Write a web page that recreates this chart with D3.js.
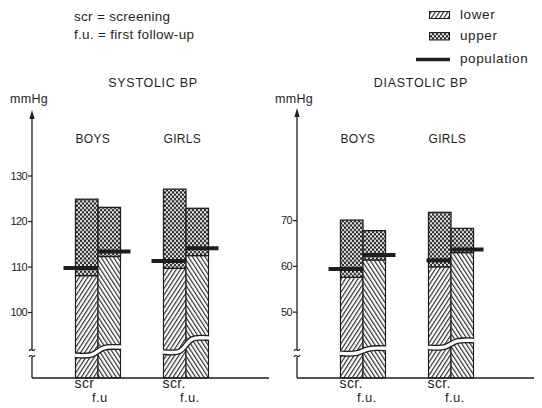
<!DOCTYPE html>
<html><head><meta charset="utf-8">
<script src="https://cdn.jsdelivr.net/npm/d3@7"></script>
<style>
html,body{margin:0;padding:0;background:#fff;}
svg text{font-family:"Liberation Sans",Arial,sans-serif;fill:#1e1e1e;}
</style></head>
<body>
<svg id="chart" width="542" height="408"></svg>
<script>
// ---------- data ----------
const panelTitles = ["SYSTOLIC BP", "DIASTOLIC BP"];
const groups = ["BOYS", "GIRLS"];
const visits = ["scr", "fu"];
// order: boys scr, boys f.u., girls scr, girls f.u.
const sysLower = [108.0, 112.2, 109.6, 112.4];
const sysUpper = [124.8, 123.0, 127.0, 122.8];
const sysPop   = [109.7, 113.3, 111.2, 114.0];
const diaLower = [57.5, 61.3, 59.8, 62.9];
const diaUpper = [70.0, 67.7, 71.7, 68.2];
const diaPop   = [59.3, 62.4, 61.2, 63.6];
const sysTicks = [100, 110, 120, 130];
const diaTicks = [50, 60, 70];
const sysDomain = [85.5, 144.4];
const diaDomain = [35.5, 94.5];
// broken-bar wave levels [left, right] per group (axis units)
const sysBreak = [[90.5, 92.3], [91.2, 94.3]];
const diaBreak = [[40.9, 42.0], [42.2, 43.7]];
const sysVisitLabels = [["scr", "f.u"], ["scr.", "f.u."]];
const diaVisitLabels = [["scr.", "f.u."], ["scr.", "f.u."]];
const legendLabels = ["lower", "upper", "population"];
const notes = ["scr = screening", "f.u. = first follow-up"];

// ---------- drawing ----------
const svg = d3.select("#chart");
const ink = "#1e1e1e";
const defs = svg.append("defs");

function hatch(id, angle) {
  const p = defs.append("pattern").attr("id", id)
    .attr("patternUnits", "userSpaceOnUse").attr("width", 3.5).attr("height", 3.5)
    .attr("patternTransform", `rotate(${angle})`);
  p.append("rect").attr("width", 3.5).attr("height", 3.5).attr("fill", "#fff");
  p.append("line").attr("x1", 0.6).attr("x2", 0.6).attr("y1", 0).attr("y2", 3.5)
    .attr("stroke", ink).attr("stroke-width", 1.1);
}
hatch("hatchScr", 33);
hatch("hatchFu", -33);
const mesh = defs.append("pattern").attr("id", "mesh")
  .attr("patternUnits", "userSpaceOnUse").attr("width", 4).attr("height", 4.4);
mesh.append("rect").attr("width", 4).attr("height", 4.4).attr("fill", "#222");
[[1, 1.1], [3, 3.3], [3, -1.1], [-1, 3.3], [5, 3.3], [1, 5.5]].forEach(([cx, cy]) =>
  mesh.append("ellipse").attr("cx", cx).attr("cy", cy).attr("rx", 0.95).attr("ry", 1.25).attr("fill", "#fff"));

const panels = [
  {title: panelTitles[0], lower: sysLower, upper: sysUpper, pop: sysPop, ticks: sysTicks,
   domain: sysDomain, brk: sysBreak, vlab: sysVisitLabels, axisX: 32, top: 110, titleX: 153},
  {title: panelTitles[1], lower: diaLower, upper: diaUpper, pop: diaPop, ticks: diaTicks,
   domain: diaDomain, brk: diaBreak, vlab: diaVisitLabels, axisX: 297, top: 108, titleX: 421}
];
const base = 378;

panels.forEach((P, pi) => {
  const y = d3.scaleLinear().domain(P.domain).range([base, P.top]);
  const xg = d3.scalePoint().domain(groups).range([P.axisX + 66, P.axisX + 154]);
  const xv = d3.scaleBand().domain(visits).range([-22.5, 22.5]);
  const g = svg.append("g");

  // title and unit
  g.append("text").attr("x", P.titleX).attr("y", 87).attr("text-anchor", "middle")
    .attr("font-size", 12.5).attr("letter-spacing", 0.7).text(P.title);
  g.append("text").attr("x", P.axisX - 22).attr("y", 103).attr("font-size", 12.5)
    .attr("letter-spacing", 0.3).text("mmHg");

  // bars
  const rows = [];
  groups.forEach((gr, gi) => visits.forEach((v, vi) => {
    const k = gi * 2 + vi;
    rows.push({gr, gi, v, vi, lower: P.lower[k], upper: P.upper[k], pop: P.pop[k]});
  }));
  const bw = xv.bandwidth();
  rows.forEach(r => {
    const x0 = xg(r.gr) + xv(r.v);
    g.append("rect").attr("x", x0).attr("y", y(r.lower)).attr("width", bw)
      .attr("height", base - y(r.lower))
      .attr("fill", r.vi === 0 ? "url(#hatchScr)" : "url(#hatchFu)")
      .attr("stroke", ink).attr("stroke-width", 1.2);
    g.append("rect").attr("x", x0).attr("y", y(r.upper)).attr("width", bw)
      .attr("height", y(r.lower) - y(r.upper))
      .attr("fill", "url(#mesh)").attr("stroke", ink).attr("stroke-width", 1.3);
  });

  // wavy bar breaks
  groups.forEach((gr, gi) => {
    const xl = xg(gr) + xv("scr"), xr = xg(gr) + xv("fu") + bw, w = xr - xl;
    const yl = y(P.brk[gi][0]), yr = y(P.brk[gi][1]);
    const pts = [[xl - 0.5, yl], [xl + w * 0.2, yl + 0.6], [xl + w * 0.38, yl],
                 [xl + w * 0.5, (yl + yr) / 2], [xl + w * 0.62, yr + 0.3],
                 [xl + w * 0.82, yr - 0.3], [xr + 0.5, yr]];
    const line = d3.line().curve(d3.curveBasis);
    g.append("path").attr("d", line(pts)).attr("fill", "none")
      .attr("stroke", ink).attr("stroke-width", 6);
    g.append("path").attr("d", line(pts)).attr("fill", "none")
      .attr("stroke", "#fff").attr("stroke-width", 3.4);
  });

  // population lines
  rows.forEach(r => {
    const x0 = xg(r.gr) + xv(r.v);
    let a, b;
    if (r.vi === 0) { a = x0 - ((pi === 1 && r.gi === 1) ? 2 : 12); b = x0 + bw; }
    else { a = x0; b = x0 + bw + 10; }
    g.append("line").attr("x1", a).attr("x2", b).attr("y1", y(r.pop)).attr("y2", y(r.pop))
      .attr("stroke", ink).attr("stroke-width", 4);
  });

  // group labels
  groups.forEach(gr => {
    g.append("text").attr("x", xg(gr) - 22.5).attr("y", 143).attr("font-size", 12)
      .attr("letter-spacing", 0.3).text(gr);
  });
  // visit labels
  groups.forEach((gr, gi) => {
    g.append("text").attr("x", xg(gr) + xv("scr") - 1).attr("y", 388).attr("font-size", 14)
      .attr("letter-spacing", 0.4).text(P.vlab[gi][0]);
    g.append("text").attr("x", xg(gr) + xv("fu") - 6).attr("y", 402).attr("font-size", 13)
      .attr("letter-spacing", 0.4).text(P.vlab[gi][1]);
  });

  // axes
  const ax = P.axisX;
  g.append("line").attr("x1", ax).attr("x2", ax).attr("y1", base).attr("y2", 357)
    .attr("stroke", ink).attr("stroke-width", 1.3);
  g.append("line").attr("x1", ax).attr("x2", ax).attr("y1", 350).attr("y2", P.top + 6)
    .attr("stroke", ink).attr("stroke-width", 1.3);
  [350, 356].forEach(yy => {
    g.append("path").attr("d", `M${ax - 3},${yy + 0.8} q1.5,-2 3,-0.8 q1.5,1.2 3,-0.8`)
      .attr("fill", "none").attr("stroke", ink).attr("stroke-width", 1.1);
  });
  g.append("path").attr("d", `M${ax},${P.top} L${ax - 2.6},${P.top + 9} L${ax + 2.6},${P.top + 9} Z`)
    .attr("fill", ink);
  g.append("line").attr("x1", ax).attr("x2", ax + 237).attr("y1", base).attr("y2", base)
    .attr("stroke", ink).attr("stroke-width", 1.3);

  const yAxis = d3.axisLeft(y).tickValues(P.ticks).tickSize(4).tickPadding(1);
  const ag = g.append("g").attr("transform", `translate(${ax},0)`).call(yAxis);
  ag.select(".domain").remove();
  ag.selectAll(".tick line").attr("stroke", ink).attr("stroke-width", 1.2);
  ag.selectAll(".tick text").attr("font-size", 11).attr("letter-spacing", -0.6)
    .attr("font-family", "Liberation Sans, Arial, sans-serif").attr("fill", ink);
});

// notes
notes.forEach((t, i) => {
  svg.append("text").attr("x", 74).attr("y", 21 + i * 17.5).attr("font-size", 13.5)
    .attr("letter-spacing", 0.3).text(t);
});

// legend
const lg = svg.append("g");
lg.append("rect").attr("x", 429.5).attr("y", 11.5).attr("width", 20).attr("height", 7)
  .attr("fill", "url(#hatchScr)").attr("stroke", ink).attr("stroke-width", 1);
lg.append("rect").attr("x", 429.5).attr("y", 32.5).attr("width", 20).attr("height", 7.5)
  .attr("fill", "url(#mesh)").attr("stroke", ink).attr("stroke-width", 1);
lg.append("line").attr("x1", 416).attr("x2", 450).attr("y1", 59.5).attr("y2", 59.5)
  .attr("stroke", ink).attr("stroke-width", 3.5);
[18.5, 40, 63].forEach((yy, i) => {
  lg.append("text").attr("x", 460).attr("y", yy).attr("font-size", 13.5)
    .attr("letter-spacing", 0.6).text(legendLabels[i]);
});
</script>
</body></html>
